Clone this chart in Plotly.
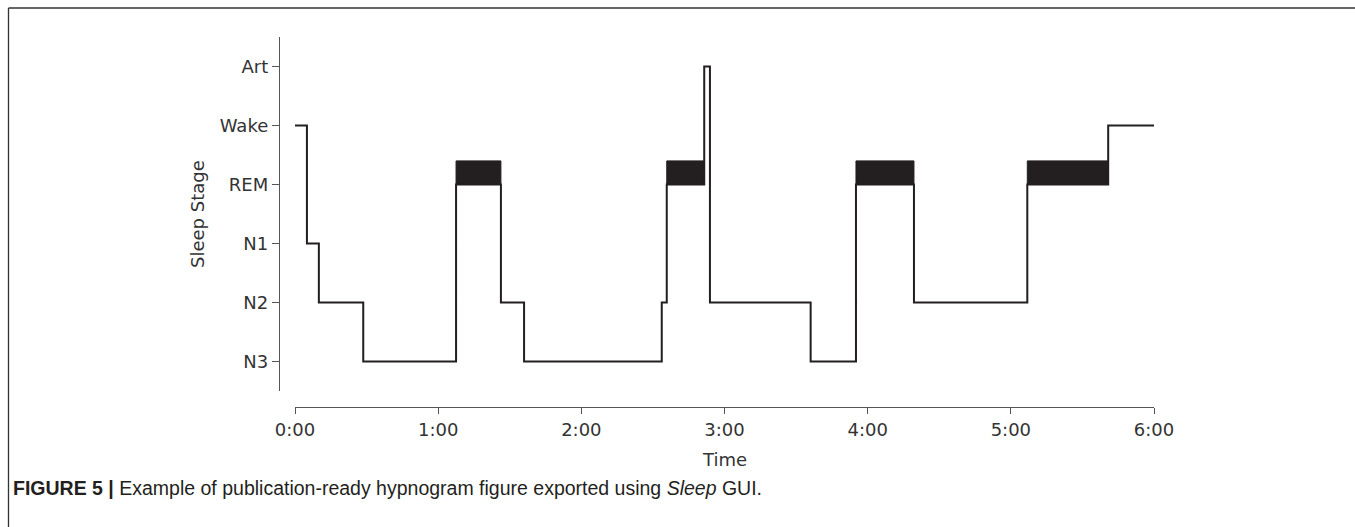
import plotly.graph_objects as go

W, H = 1355, 527

# ---- data ----
stage_names = ["N3", "N2", "N1", "REM", "Wake", "Art"]
stage_values = [0, 1, 2, 3, 4, 5]
# hypnogram: onset (minutes) and stage of each segment
onsets = [0, 5, 10, 28.6, 67.5, 86.3, 96, 153.7, 155.8, 171.5, 173.9,
          216.1, 235.1, 259.4, 306.9, 340.8]
stages = ["Wake", "N1", "N2", "N3", "REM", "N2", "N3", "N2", "REM", "Art", "N2",
          "N3", "REM", "N2", "REM", "Wake"]
end_time = 360
x_tick_vals = [0, 60, 120, 180, 240, 300, 360]
x_tick_text = ["0:00", "1:00", "2:00", "3:00", "4:00", "5:00", "6:00"]
rem_height = 0.4

stage_map = dict(zip(stage_names, stage_values))
xs = onsets + [end_time]
ys = [stage_map[s] for s in stages] + [stage_map[stages[-1]]]

def px_x(p):
    return p / W

def px_y(p):
    return 1 - p / H

fig = go.Figure()

# REM blocks
for i, s in enumerate(stages):
    if s == "REM":
        x0 = onsets[i]
        x1 = onsets[i + 1] if i + 1 < len(onsets) else end_time
        y0 = stage_map["REM"]
        y1 = y0 + rem_height
        fig.add_trace(go.Scatter(
            x=[x0, x1, x1, x0, x0], y=[y0, y0, y1, y1, y0],
            mode="lines", fill="toself", fillcolor="#231f20",
            line=dict(color="#231f20", width=1), hoverinfo="skip",
            showlegend=False))

fig.add_trace(go.Scatter(
    x=xs, y=ys, mode="lines", line_shape="hv",
    line=dict(color="#231f20", width=2), showlegend=False))

axis_font = dict(family="DejaVu Sans", size=18, color="#333333")

fig.update_layout(
    template="none",
    width=W, height=H,
    margin=dict(l=0, r=0, t=0, b=0, pad=0),
    paper_bgcolor="white", plot_bgcolor="white",
    xaxis=dict(
        domain=[px_x(295), px_x(1154)],
        range=[0, 360], anchor="free", position=px_y(407), automargin=False,
        tickvals=x_tick_vals, ticktext=x_tick_text,
        showline=True, linecolor="#555555", linewidth=1.3,
        ticks="outside", ticklen=6, tickcolor="#555555", tickwidth=1,
        showgrid=False, zeroline=False, tickfont=axis_font,
    ),
    yaxis=dict(
        domain=[px_y(391), px_y(37)],
        range=[-0.5, 5.5], anchor="free", position=px_x(279), automargin=False,
        tickvals=stage_values, ticktext=stage_names,
        showline=True, linecolor="#555555", linewidth=1.3,
        ticks="outside", ticklen=7, tickcolor="#555555", tickwidth=1,
        showgrid=False, zeroline=False, tickfont=axis_font,
    ),
    shapes=[
        dict(type="line", xref="paper", yref="paper",
             x0=px_x(8.5), x1=1, y0=px_y(8), y1=px_y(8),
             line=dict(color="#333333", width=1.3)),
        dict(type="line", xref="paper", yref="paper",
             x0=px_x(8.5), x1=px_x(8.5), y0=px_y(8), y1=0,
             line=dict(color="#333333", width=1.3)),
    ],
    annotations=[
        dict(text="Sleep Stage", xref="paper", yref="paper",
             x=px_x(198), y=px_y(214), textangle=-90, showarrow=False,
             xanchor="center", yanchor="middle", font=axis_font),
        dict(text="Time", xref="paper", yref="paper",
             x=px_x(724), y=px_y(459), showarrow=False,
             xanchor="center", yanchor="middle", font=axis_font),
        dict(text="<b>FIGURE 5 |</b> Example of publication-ready hypnogram figure exported using <i>Sleep</i> GUI.",
             xref="paper", yref="paper", x=px_x(11), y=px_y(488),
             showarrow=False, xanchor="left", yanchor="middle",
             font=dict(family="Liberation Sans", size=19.5, color="#231f20")),
    ],
)

fig.write_html("out.html", config={"displayModeBar": False},
               post_script="document.body.style.margin='0';document.body.style.overflow='hidden';")
